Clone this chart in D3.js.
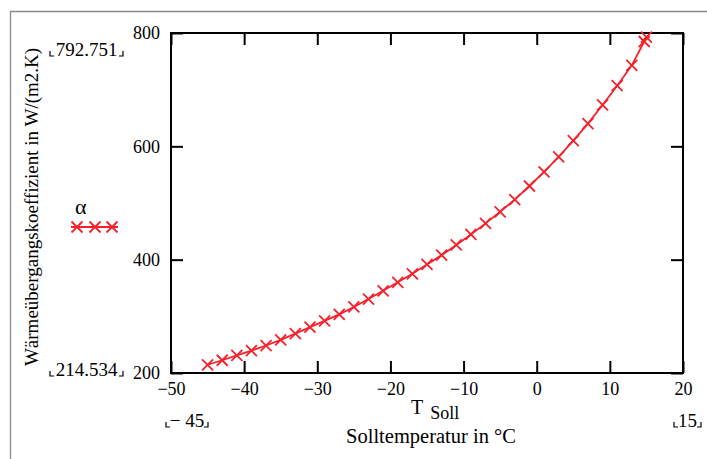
<!DOCTYPE html>
<html><head><meta charset="utf-8">
<script src="https://cdn.jsdelivr.net/npm/d3@7"></script>
<style>
html,body{margin:0;padding:0;background:#fff;}
svg text{font-family:"Liberation Serif","Times New Roman",serif !important;fill:#000;}
</style></head>
<body>
<svg id="chart" width="707" height="459"></svg>
<script>
// ---- data ----
const temps = [-45,-43,-41,-39,-37,-35,-33,-31,-29,-27,-25,-23,-21,-19,-17,-15,-13,-11,-9,-7,-5,-3,-1,1,3,5,7,9,11,13,14.7,15];
const alpha = [214.534,222.5,231,239.5,248.5,258.5,269.5,281,292,303.5,316.5,330.5,345,360,375,391.5,408,426,444.5,464,484.5,506,530,555,581.5,610,640,673,707,743,785,792.751];
const xTicks = [-50,-40,-30,-20,-10,0,10,20];
const yTicks = [200,400,600,800];
const seriesName = "α";
const yTitle = "Wärmeübergangskoeffizient in W/(m2.K)";
const xTitle = "Solltemperatur in °C";
const xVar = "T", xVarSub = "Soll";
const xRangeLabels = ["− 45", "15"];
const yRangeLabels = ["214.534", "792.751"];

const FONT = '"Liberation Serif","Times New Roman",serif';
const svg = d3.select("#chart");
const L = 171, R = 683, T = 33, B = 373;
const x = d3.scaleLinear().domain([-50,20]).range([L,R]);
const y = d3.scaleLinear().domain([200,800]).range([B,T]);
const red = "#f5212b";

// outer frame (top + left)
svg.append("line").attr("x1",10).attr("x2",707).attr("y1",11.5).attr("y2",11.5).attr("stroke","#8a8a8a").attr("stroke-width",1.3);
svg.append("line").attr("x1",10.5).attr("x2",10.5).attr("y1",11).attr("y2",459).attr("stroke","#8a8a8a").attr("stroke-width",1.3);

function styleAxis(g, labels){
  g.attr("font-family",FONT);
  g.select(".domain").remove();
  g.selectAll(".tick line").attr("stroke","#000").attr("stroke-width",2);
  g.selectAll("text").attr("font-size",18).style("font-family",FONT);
  if(!labels) g.selectAll("text").remove();
}
const fmt = d3.format("");
svg.append("g").attr("transform",`translate(0,${B})`)
  .call(d3.axisBottom(x).tickValues(xTicks).tickSizeInner(-12).tickSizeOuter(0).tickPadding(9).tickFormat(d=>fmt(d)))
  .call(g=>styleAxis(g,true));
svg.append("g").attr("transform",`translate(0,${T})`)
  .call(d3.axisTop(x).tickValues(xTicks).tickSizeInner(-12).tickSizeOuter(0))
  .call(g=>styleAxis(g,false));
svg.append("g").attr("transform",`translate(${L},0)`)
  .call(d3.axisLeft(y).tickValues(yTicks).tickSizeInner(-12).tickSizeOuter(0).tickPadding(11))
  .call(g=>styleAxis(g,true));
svg.append("g").attr("transform",`translate(${R},0)`)
  .call(d3.axisRight(y).tickValues(yTicks).tickSizeInner(-12).tickSizeOuter(0))
  .call(g=>styleAxis(g,false));

// plot frame
svg.append("rect").attr("x",L).attr("y",T).attr("width",R-L).attr("height",B-T)
  .attr("fill","none").attr("stroke","#000").attr("stroke-width",2);

// series
const pts = temps.map((t,i)=>[t,alpha[i]]);
svg.append("path").datum(pts)
  .attr("d", d3.line().x(d=>x(d[0])).y(d=>y(d[1])))
  .attr("fill","none").attr("stroke",red).attr("stroke-width",1.8);
const s = 5.5;
svg.append("g").selectAll("path").data(pts).join("path")
  .attr("d", d=>{const cx=x(d[0]), cy=y(d[1]); return `M${cx-s},${cy-s}L${cx+s},${cy+s}M${cx-s},${cy+s}L${cx+s},${cy-s}`;})
  .attr("stroke",red).attr("stroke-width",1.8).attr("fill","none");

// legend
svg.append("text").attr("x",75).attr("y",214).attr("font-size",22).style("font-family",FONT).text(seriesName);
svg.append("line").attr("x1",71).attr("x2",118).attr("y1",227).attr("y2",227).attr("stroke",red).attr("stroke-width",1.8);
[77,95,112].forEach(cx=>{
  svg.append("path").attr("d",`M${cx-s},${227-s}L${cx+s},${227+s}M${cx-s},${227+s}L${cx+s},${227-s}`)
    .attr("stroke",red).attr("stroke-width",1.8);
});

// range labels with corner marks
function cornerLabel(txt, xl, xr, base){
  svg.append("text").attr("x",(xl+xr)/2).attr("y",base).attr("text-anchor","middle").attr("font-size",19).style("font-family",FONT).text(txt);
  const h = 5;
  svg.append("path").attr("d",`M${xl},${base-h}L${xl},${base}L${xl+4},${base}M${xr},${base-h}L${xr},${base}L${xr-4},${base}`)
    .attr("stroke","#000").attr("stroke-width",1.2).attr("fill","none");
}
cornerLabel(yRangeLabels[1], 50, 123, 56);
cornerLabel(yRangeLabels[0], 50, 123, 376);
cornerLabel(xRangeLabels[0], 166, 208, 427);
cornerLabel(xRangeLabels[1], 674, 701, 427);

// x axis title
const xt = svg.append("text").attr("x",411).attr("y",414).attr("font-size",20).style("font-family",FONT);
xt.append("tspan").text(xVar);
xt.append("tspan").attr("dx",7).attr("dy",5).attr("font-size",18).text(xVarSub);
svg.append("text").attr("x",431).attr("y",443).attr("text-anchor","middle").attr("font-size",20.5).style("font-family",FONT).text(xTitle);

// y axis title
svg.append("text").attr("transform","translate(38,207) rotate(-90)").attr("text-anchor","middle").attr("font-size",19).style("font-family",FONT).text(yTitle);
</script>
</body></html>
